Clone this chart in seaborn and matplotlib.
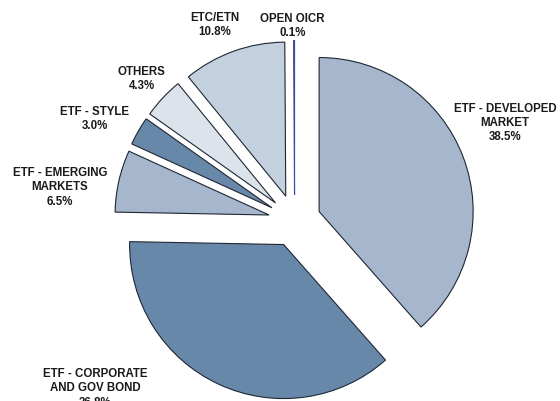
import numpy as np
import matplotlib
matplotlib.use("Agg")
import matplotlib.pyplot as plt
import seaborn as sns

# data, clockwise from 12 o'clock
categories = ["ETF - DEVELOPED\nMARKET", "ETF - CORPORATE\nAND GOV BOND", "ETF - EMERGING\nMARKETS",
              "ETF - STYLE", "OTHERS", "ETC/ETN", "OPEN OICR"]
shares = [38.5, 36.8, 6.5, 3.0, 4.3, 10.8, 0.1]
colors = ["#A6B7CD", "#6888AA", "#A6B7CD", "#6888AA", "#DCE3EB", "#C3D0DE", "#3A4A9A"]

# label placement: (angle shift in degrees, distance from wedge apex in radius units)
label_layout = [(5, 1.34), (-28, 1.535), (5, 1.37), (3, 1.29), (0, 1.19), (2.5, 1.21), (0.6, 1.10)]

sns.set_theme(style="white")
plt.rcParams["font.family"] = ["Liberation Sans", "DejaVu Sans"]

fig = plt.figure(figsize=(5.6, 4.02), dpi=100)
ax = fig.add_axes([0, 0, 1, 1])

wedges, _ = ax.pie(shares, colors=colors, startangle=90, counterclock=False,
                   explode=[0.17] * len(shares), radius=1.0,
                   wedgeprops=dict(edgecolor="#1E2633", linewidth=0.8))
wedges[-1].set_edgecolor(colors[-1])

for w, cat, val, (shift, dist) in zip(wedges, categories, shares, label_layout):
    mid = np.deg2rad((w.theta1 + w.theta2) / 2 + shift)
    cx, cy = w.center
    ax.text(cx + dist * np.cos(mid), cy + dist * np.sin(mid), f"{cat}\n{val:.1f}%",
            ha="center", va="center", fontsize=8.3, fontweight="bold",
            color="#1a1a1a", linespacing=1.25)

ax.set_aspect("equal")
ax.set_xlim(-1.913, 1.723)
ax.set_ylim(-1.170, 1.440)
ax.axis("off")

fig.savefig("out.png", dpi=100)
